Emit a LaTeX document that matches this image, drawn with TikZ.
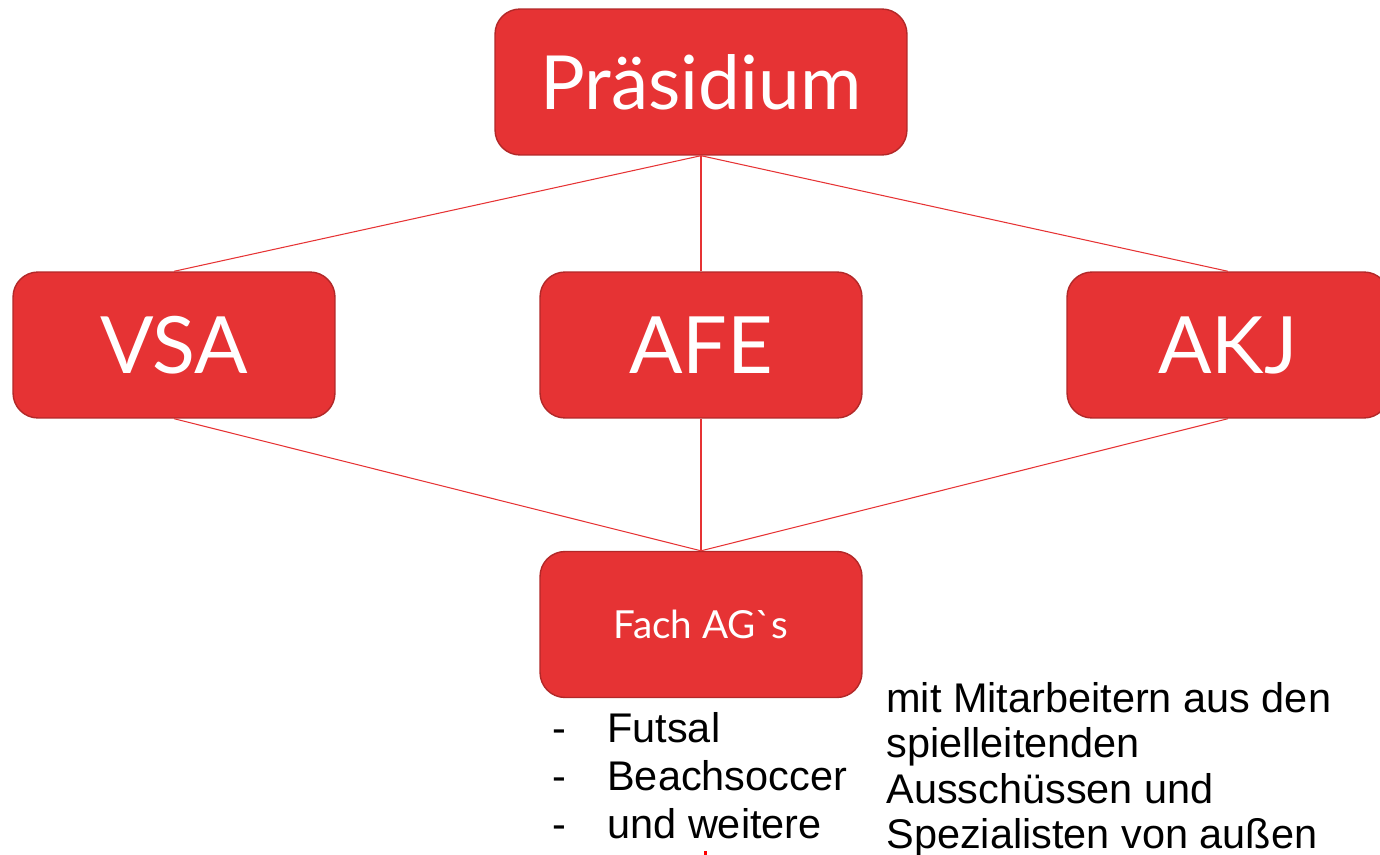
\documentclass[tikz,border=0pt]{standalone}
\usepackage{fontspec}
\setmainfont{Liberation Sans}
\newfontfamily\boxfont{Lato}
\definecolor{boxred}{RGB}{230,51,52}
\definecolor{boxedge}{RGB}{178,40,40}

\begin{document}
\begin{tikzpicture}[x=0.02cm,y=-0.02cm,
  box/.style={draw=boxedge,line width=0.8pt,fill=boxred,rounded corners=0.5cm,text=white,minimum width=6.44cm,minimum height=2.92cm,inner sep=0pt},
  link/.style={draw=boxred,line width=0.6pt},
  item/.style={anchor=base west,inner sep=0pt,font=\fontsize{23.6}{28}\selectfont}]
    \useasboundingbox (0,0) rectangle (1380,855);
    \clip (0,0) rectangle (1380,855);
    % top
    \node[box,minimum width=8.24cm,font=\boxfont\fontsize{42.5}{48}\selectfont] (praes) at (701,82) {Präsidium};
    % middle row
    \node[box,font=\boxfont\fontsize{45}{52}\selectfont] (vsa) at (174,345) {VSA};
    \node[box,font=\boxfont\fontsize{45}{52}\selectfont] (afe) at (701,345) {AFE};
    \node[box,font=\boxfont\fontsize{45}{52}\selectfont] (akj) at (1228,345) {AKJ};
    % bottom
    \node[box,font=\boxfont\fontsize{22}{26}\selectfont] (fach) at (701,624.5) {Fach AG{\char"0060}s};
    \draw[link] (praes.south) -- (vsa.north);
    \draw[link] (praes.south) -- (afe.north);
    \draw[link] (praes.south) -- (akj.north);
    \draw[link] (vsa.south) -- (fach.north);
    \draw[link] (afe.south) -- (fach.north);
    \draw[link] (akj.south) -- (fach.north);
    % list
    \node[item] (futsal) at (552,742) {\makebox[1.1cm][l]{-}Futsal};
    \node[item] (beach) at (552,790) {\makebox[1.1cm][l]{-}Beachsoccer};
    \node[item] (weitere) at (552,838) {\makebox[1.1cm][l]{-}und weitere};
    % note
    \node[item] (note1) at (886,712) {mit Mitarbeitern aus den};
    \node[item] (note2) at (886,757.5) {spielleitenden};
    \node[item] (note3) at (886,803) {Ausschüssen und};
    \node[item] (note4) at (886,848) {Spezialisten von außen};
    \fill[red] (704,851) rectangle (707,855);
\end{tikzpicture}
\end{document}
